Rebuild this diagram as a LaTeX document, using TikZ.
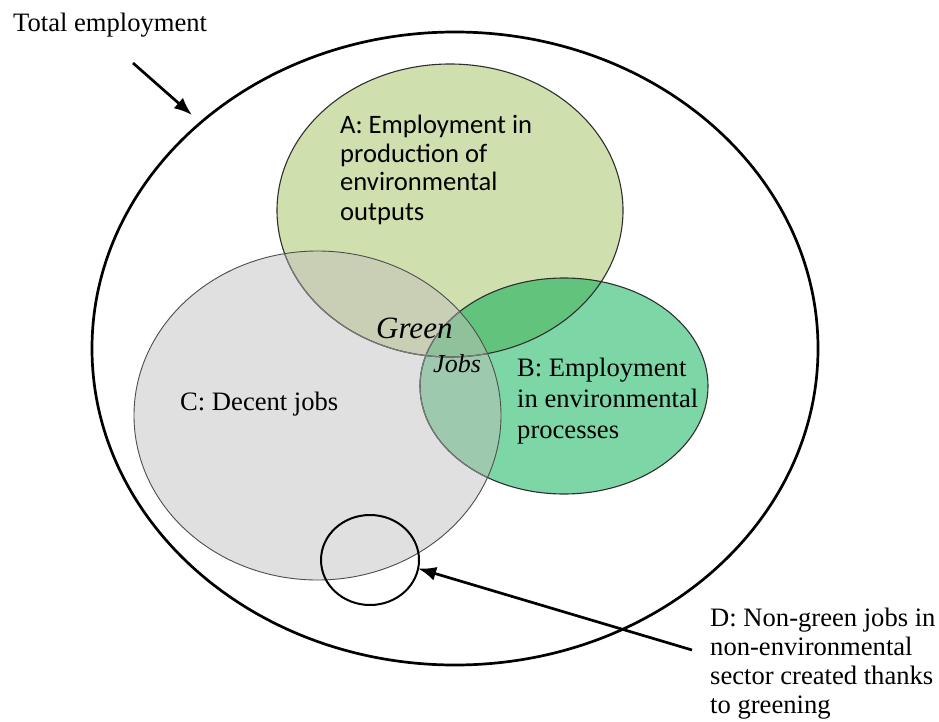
\documentclass[tikz,border=0pt]{standalone}
\usepackage{fontspec}
\setmainfont{Liberation Serif}
\newfontfamily\calibfont{Carlito}
\usetikzlibrary{shapes.geometric,arrows.meta}
\definecolor{colA}{HTML}{D0DFAE}
\definecolor{colB}{HTML}{7DD6A6}
\definecolor{colC}{HTML}{E0E0E0}
\definecolor{colAB}{HTML}{62C47C}
\definecolor{colAC}{HTML}{C9CFB4}
\definecolor{colBC}{HTML}{9DCAAF}
\definecolor{colABC}{HTML}{8FC29B}
\definecolor{lineDark}{HTML}{2E2E2E}
\definecolor{lineGray}{HTML}{7A7A7A}
\tikzset{
  setbox/.style={ellipse, inner sep=0pt, outer sep=0pt},
  arr/.style={line width=2.7pt, -{Latex[length=18pt,width=14pt]}},
  lbl/.style={inner sep=0pt, anchor=base west, align=left},
  timesfont/.style={font=\fontsize{26.6}{29}\selectfont},
}
\begin{document}
\begin{tikzpicture}[x=1pt,y=-1pt]
\useasboundingbox (0,0) rectangle (939,722);
% base fills
\fill[colA] (450,210.5) ellipse [x radius=173, y radius=146.5];
\fill[colB] (564,386) ellipse [x radius=144, y radius=108];
\fill[colC] (317.5,415.5) ellipse [x radius=183.5, y radius=164.5];
% overlaps
\begin{scope}
  \clip (450,210.5) ellipse [x radius=173, y radius=146.5];
  \fill[colAB] (564,386) ellipse [x radius=144, y radius=108];
\end{scope}
\begin{scope}
  \clip (450,210.5) ellipse [x radius=173, y radius=146.5];
  \fill[colAC] (317.5,415.5) ellipse [x radius=183.5, y radius=164.5];
\end{scope}
\begin{scope}
  \clip (564,386) ellipse [x radius=144, y radius=108];
  \fill[colBC] (317.5,415.5) ellipse [x radius=183.5, y radius=164.5];
\end{scope}
\begin{scope}
  \clip (450,210.5) ellipse [x radius=173, y radius=146.5];
  \clip (564,386) ellipse [x radius=144, y radius=108];
  \fill[colABC] (317.5,415.5) ellipse [x radius=183.5, y radius=164.5];
\end{scope}
% outlines
\node[setbox, draw=lineDark, line width=1.1pt, minimum width=346pt, minimum height=293pt] (A) at (450,210.5) {};
\node[setbox, draw=lineDark, line width=1.1pt, minimum width=288pt, minimum height=216pt] (B) at (564,386) {};
\begin{scope}
  \clip (317.5,415.5) ellipse [x radius=183.5, y radius=164.5];
  \draw[lineGray, line width=1.1pt] (450,210.5) ellipse [x radius=173, y radius=146.5];
  \draw[lineGray, line width=1.1pt] (564,386) ellipse [x radius=144, y radius=108];
\end{scope}
\node[setbox, draw=lineDark!85!white, line width=0.9pt, minimum width=367pt, minimum height=329pt] (C) at (317.5,415.5) {};
\node[setbox, draw=black, line width=2pt, minimum width=98pt, minimum height=90pt] (D) at (370,560) {};
\node[setbox, draw=black, line width=2.7pt, minimum width=726pt, minimum height=633pt] (T) at (455,348.5) {};
% labels (anchored at the baseline of their last line)
\node[lbl, timesfont] (tlabel) at (13,32) {Total employment};
\node[lbl, font=\calibfont\fontsize{26.6}{29}\selectfont] (alabel) at (340,220) {A: Employment in\\production of\\environmental\\outputs};
\node[lbl, font=\itshape\fontsize{31}{34}\selectfont] (green) at (376,338) {Green};
\node[lbl, font=\itshape\fontsize{26}{29}\selectfont] (jobs) at (433,372) {Jobs};
\node[lbl, font=\fontsize{26.6}{31}\selectfont] (blabel) at (517,438) {B: Employment\\in environmental\\processes};
\node[lbl, timesfont] (clabel) at (180,410) {C: Decent jobs};
\node[lbl, timesfont] (dlabel) at (710,713) {D: Non-green jobs in\\non-environmental\\sector created thanks\\to greening};
% arrows
\coordinate (t0) at (133,63);
\coordinate (d0) at (692,650);
\draw[arr] (t0) -- (192,115);
\draw[arr] (d0) -- (D.-10);
\end{tikzpicture}
\end{document}
